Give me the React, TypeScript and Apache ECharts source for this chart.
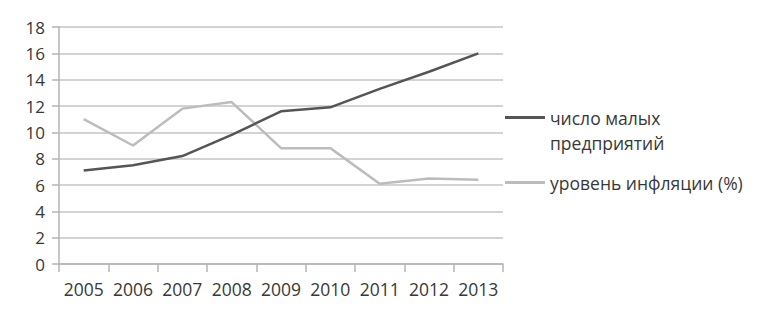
import React, { useEffect, useRef } from "react";
import * as echarts from "echarts";

const years = ["2005", "2006", "2007", "2008", "2009", "2010", "2011", "2012", "2013"];
const smallBusinesses = [7.1, 7.5, 8.2, 9.8, 11.6, 11.9, 13.3, 14.6, 16.0];
const inflation = [11.0, 9.0, 11.8, 12.3, 8.8, 8.8, 6.1, 6.5, 6.4];
const seriesNames = ["число малых\nпредприятий", "уровень инфляции (%)"];

const FONT = "'Open Sans', 'Noto Sans', sans-serif";
const TEXT = "#383838";

export default function App() {
  const ref = useRef<HTMLDivElement>(null);
  useEffect(() => {
    if (!ref.current) return;
    const chart = echarts.init(ref.current, undefined, { renderer: "svg" });
    chart.setOption({
      animation: false,
      backgroundColor: "#ffffff",
      textStyle: { fontFamily: FONT, color: TEXT },
      grid: { left: 59, right: 269, top: 27, bottom: 63, containLabel: false },
      legend: [
        {
          data: [
            {
              name: seriesNames[0],
              icon: "path://M0,0h40v3h-40z M0,28h0.01v0.01h-0.01z",
            },
          ],
          left: 505,
          top: 105,
          orient: "vertical",
          itemWidth: 40,
          itemHeight: 28,
          itemGap: 0,
          padding: 0,
          selectedMode: false,
          textStyle: { fontFamily: FONT, fontSize: 17.5, color: TEXT, lineHeight: 25 },
        },
        {
          data: [{ name: seriesNames[1], icon: "path://M0,0h40v3h-40z" }],
          left: 505,
          top: 170,
          orient: "vertical",
          itemWidth: 40,
          itemHeight: 3,
          padding: 0,
          selectedMode: false,
          textStyle: { fontFamily: FONT, fontSize: 17.5, color: TEXT, lineHeight: 25 },
        },
      ],
      xAxis: {
        type: "category",
        data: years,
        boundaryGap: true,
        axisLine: { show: true, lineStyle: { color: "#b4b4b4", width: 1.5 } },
        axisTick: { show: true, interval: 0, length: 8, alignWithLabel: false, lineStyle: { color: "#b4b4b4", width: 1.5 } },
        axisLabel: { interval: 0, fontFamily: FONT, fontSize: 17.5, color: TEXT, margin: 16 },
      },
      yAxis: {
        type: "value",
        min: 0,
        max: 18,
        interval: 2,
        axisLine: { show: true, lineStyle: { color: "#b4b4b4", width: 1.5 } },
        axisTick: { show: true, length: 7, lineStyle: { color: "#b4b4b4", width: 1.5 } },
        splitLine: { show: true, lineStyle: { color: "#c4c4c4", width: 1.5 } },
        axisLabel: { fontFamily: FONT, fontSize: 17, color: TEXT, margin: 14 },
      },
      series: [
        {
          name: seriesNames[0],
          type: "line",
          data: smallBusinesses,
          showSymbol: false,
          symbol: "none",
          color: "#555555",
          lineStyle: { color: "#555555", width: 2.5 },
          z: 3,
        },
        {
          name: seriesNames[1],
          type: "line",
          data: inflation,
          showSymbol: false,
          symbol: "none",
          color: "#bcbcbc",
          lineStyle: { color: "#bcbcbc", width: 2.5 },
          z: 2,
        },
      ],
    });
    return () => chart.dispose();
  }, []);
  return <div ref={ref} style={{ width: 772, height: 327, position: "absolute", left: 0, top: 0 }} />;
}
